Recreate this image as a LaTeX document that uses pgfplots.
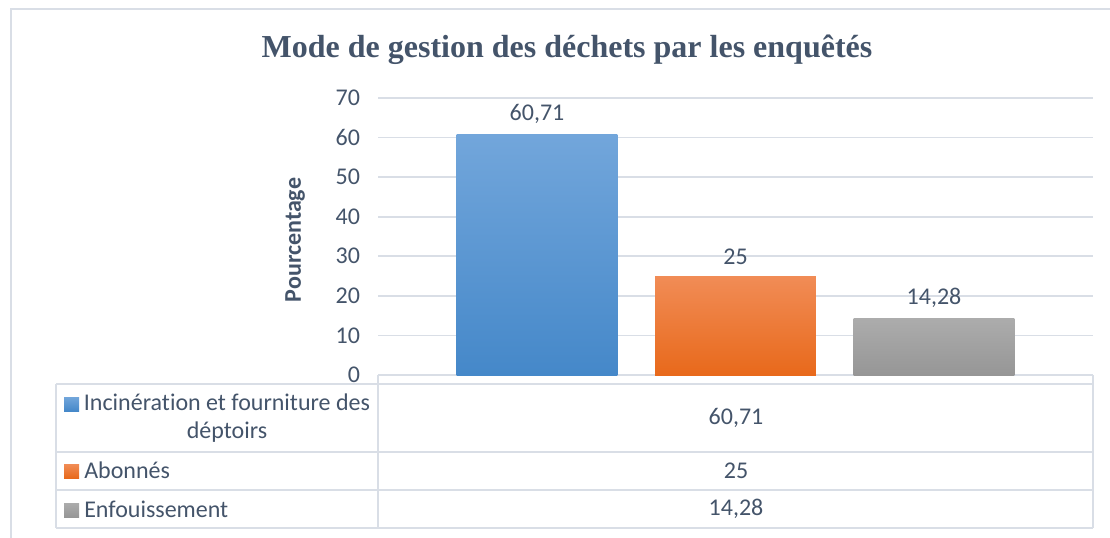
\documentclass[border=0pt]{standalone}
\usepackage{fontspec}
\setmainfont{Carlito}[Ligatures={NoCommon}]
\newfontfamily\titlefont{Liberation Serif}
\usepackage{pgfplots}
\pgfplotsset{compat=1.18}
\definecolor{txt}{HTML}{44546A}
\definecolor{gridc}{HTML}{D9DEE6}
\definecolor{btop}{HTML}{72A6DB}
\definecolor{bbot}{HTML}{4588C9}
\definecolor{otop}{HTML}{F18C56}
\definecolor{obot}{HTML}{E8691B}
\definecolor{gtop}{HTML}{ACACAC}
\definecolor{gbot}{HTML}{969696}
\newcommand\fs{\fontsize{18}{21}\selectfont}
\begin{document}
\begin{tikzpicture}
\useasboundingbox (0,0) rectangle (832.5pt,402.75pt);
\begin{axis}[
  at={(283.5pt,121.5pt)}, anchor=south west,
  width=536.25pt, height=207.75pt, scale only axis,
  xmin=-0.5, xmax=0.5, ymin=0, ymax=70,
  ytick={0,10,...,70}, xtick=\empty,
  axis line style={draw=none},
  tick style={draw=none},
  ymajorgrids,
  major grid style={draw=gridc, line width=1.2pt},
  yticklabel style={font=\fs, text=txt, xshift=-10pt},
  ybar, bar width=0.225, bar shift=0pt,
  nodes near coords,
  every node near coord/.append style={font=\fs, text=txt, yshift=5pt},
  /pgf/number format/.cd, use comma, fixed, precision=2, assume math mode=true,
]
\addplot[draw=none, top color=btop, bottom color=bbot] coordinates {(-0.2776,60.71)};
\addplot[draw=none, top color=otop, bottom color=obot] coordinates {(0,25)};
\addplot[draw=none, top color=gtop, bottom color=gbot] coordinates {(0.2776,14.28)};
\end{axis}
\begin{scope}[x=0.75pt, y=0.75pt]
  % outer border
  \draw[gridc, line width=1.1pt] (11,{537-560}) -- (11,{537-9}) -- (1130,{537-9});
  % title
  \node[font=\titlefont\bfseries\fontsize{24}{28}\selectfont, text=txt] at (567,{537-50}) {Mode de gestion des déchets par les enquêtés};
  % y label
  \node[font=\fs\bfseries, text=txt, rotate=90] at (295,{537-240}) {Pourcentage};
  % table lines
  \begin{scope}[gridc, line width=1.2pt]
    \draw (56,{537-384}) -- (1093,{537-384});
    \draw (56,{537-452}) -- (1093,{537-452});
    \draw (56,{537-490}) -- (1093,{537-490});
    \draw (56,{537-528}) -- (1093,{537-528});
    \draw (56,{537-384}) -- (56,{537-528});
    \draw (378,{537-375}) -- (378,{537-528});
    \draw (1093,{537-375}) -- (1093,{537-528});
  \end{scope}
  % legend keys
  \shade[top color=btop, bottom color=bbot] (64,{537-397}) rectangle (79,{537-411});
  \shade[top color=otop, bottom color=obot] (64,{537-464}) rectangle (79,{537-478});
  \shade[top color=gtop, bottom color=gbot] (64,{537-503}) rectangle (79,{537-517});
  % table texts
  \node[font=\fontsize{18}{21}\selectfont, text=txt, align=center] at (227,{537-418}) {Incinération et fourniture des\\déptoirs};
  \node[font=\fs, text=txt, anchor=west, inner sep=0pt] at (84,{537-470}) {Abonnés};
  \node[font=\fs, text=txt, anchor=west, inner sep=0pt] at (84,{537-509}) {Enfouissement};
  \node[font=\fs, text=txt] at (736,{537-418}) {60,71};
  \node[font=\fs, text=txt] at (736,{537-471}) {25};
  \node[font=\fs, text=txt] at (736,{537-509}) {14,28};
\end{scope}
\end{tikzpicture}
\end{document}
